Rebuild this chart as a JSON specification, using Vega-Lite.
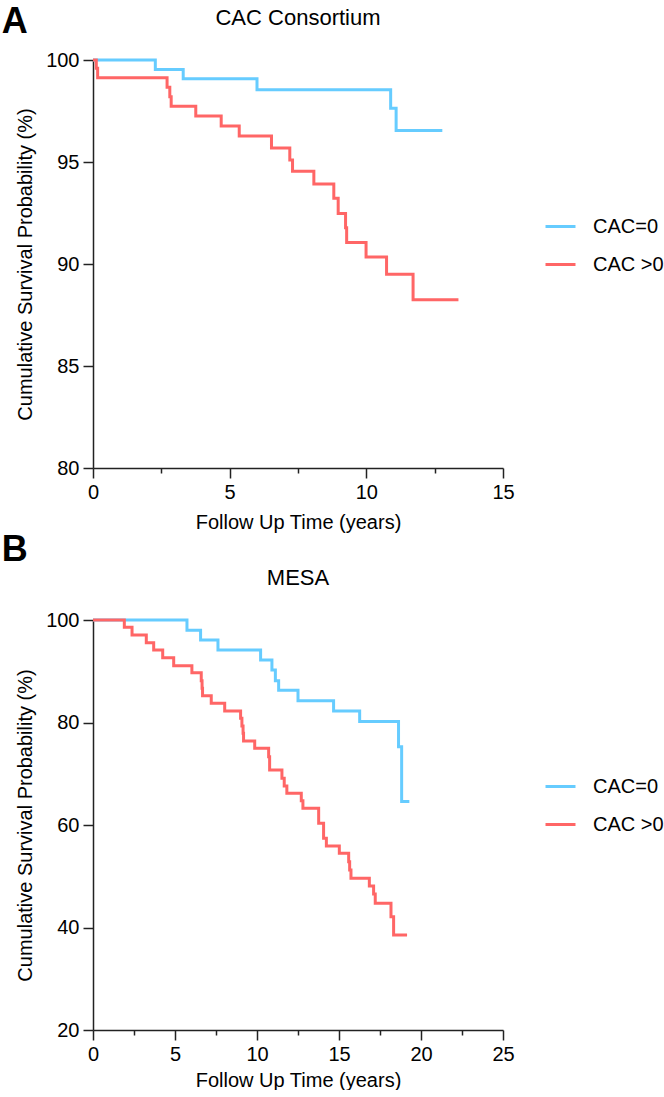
{
  "$schema": "https://vega.github.io/schema/vega-lite/v6.json",
  "background": "white",
  "padding": {"left": 1, "top": 4, "right": 0, "bottom": 0},
  "config": {
    "font": "Liberation Sans",
    "view": {"stroke": null},
    "axis": {
      "grid": false,
      "domainColor": "#222",
      "domainWidth": 1.5,
      "tickColor": "#222",
      "tickWidth": 1.5,
      "tickSize": 10,
      "labelColor": "#000",
      "titleColor": "#000",
      "labelFontSize": 20,
      "titleFontSize": 20,
      "titleFontWeight": "normal",
      "labelPadding": 4,
      "labelFlush": false,
      "labelOverlap": false
    },
    "legend": {
      "title": null,
      "orient": "none",
      "legendX": 451,
      "legendY": 150,
      "symbolType": "stroke",
      "symbolSize": 900,
      "symbolStrokeWidth": 3,
      "labelFontSize": 20,
      "labelColor": "#000",
      "labelOffset": 16,
      "rowPadding": 11,
      "padding": 0
    },
    "concat": {"spacing": 0}
  },
  "datasets": {
    "km": [
      {"panel": "A", "group": "CAC=0", "t": 0, "s": 100},
      {"panel": "A", "group": "CAC=0", "t": 2.28, "s": 99.54},
      {"panel": "A", "group": "CAC=0", "t": 3.3, "s": 99.08},
      {"panel": "A", "group": "CAC=0", "t": 6.0, "s": 98.54},
      {"panel": "A", "group": "CAC=0", "t": 10.89, "s": 97.63},
      {"panel": "A", "group": "CAC=0", "t": 11.09, "s": 96.55},
      {"panel": "A", "group": "CAC=0", "t": 12.78, "s": 96.55},
      {"panel": "A", "group": "CAC >0", "t": 0, "s": 100},
      {"panel": "A", "group": "CAC >0", "t": 0.12, "s": 99.6},
      {"panel": "A", "group": "CAC >0", "t": 0.17, "s": 99.13},
      {"panel": "A", "group": "CAC >0", "t": 2.71, "s": 98.66},
      {"panel": "A", "group": "CAC >0", "t": 2.81, "s": 98.2},
      {"panel": "A", "group": "CAC >0", "t": 2.86, "s": 97.73},
      {"panel": "A", "group": "CAC >0", "t": 3.76, "s": 97.25},
      {"panel": "A", "group": "CAC >0", "t": 4.69, "s": 96.76},
      {"panel": "A", "group": "CAC >0", "t": 5.35, "s": 96.27},
      {"panel": "A", "group": "CAC >0", "t": 6.53, "s": 95.69},
      {"panel": "A", "group": "CAC >0", "t": 7.2, "s": 95.1},
      {"panel": "A", "group": "CAC >0", "t": 7.3, "s": 94.55},
      {"panel": "A", "group": "CAC >0", "t": 8.08, "s": 93.92},
      {"panel": "A", "group": "CAC >0", "t": 8.81, "s": 93.22},
      {"panel": "A", "group": "CAC >0", "t": 8.97, "s": 92.48},
      {"panel": "A", "group": "CAC >0", "t": 9.24, "s": 91.78},
      {"panel": "A", "group": "CAC >0", "t": 9.28, "s": 91.06},
      {"panel": "A", "group": "CAC >0", "t": 9.99, "s": 90.34},
      {"panel": "A", "group": "CAC >0", "t": 10.74, "s": 89.5},
      {"panel": "A", "group": "CAC >0", "t": 11.71, "s": 88.25},
      {"panel": "A", "group": "CAC >0", "t": 13.37, "s": 88.25},
      {"panel": "B", "group": "CAC=0", "t": 0, "s": 100},
      {"panel": "B", "group": "CAC=0", "t": 5.73, "s": 97.99},
      {"panel": "B", "group": "CAC=0", "t": 6.56, "s": 96.1},
      {"panel": "B", "group": "CAC=0", "t": 7.62, "s": 94.15},
      {"panel": "B", "group": "CAC=0", "t": 10.22, "s": 92.2},
      {"panel": "B", "group": "CAC=0", "t": 10.91, "s": 90.24},
      {"panel": "B", "group": "CAC=0", "t": 11.12, "s": 88.16},
      {"panel": "B", "group": "CAC=0", "t": 11.32, "s": 86.28},
      {"panel": "B", "group": "CAC=0", "t": 12.5, "s": 84.26},
      {"panel": "B", "group": "CAC=0", "t": 14.67, "s": 82.24},
      {"panel": "B", "group": "CAC=0", "t": 16.26, "s": 80.2},
      {"panel": "B", "group": "CAC=0", "t": 18.63, "s": 75.28},
      {"panel": "B", "group": "CAC=0", "t": 18.82, "s": 64.6},
      {"panel": "B", "group": "CAC=0", "t": 19.29, "s": 64.6},
      {"panel": "B", "group": "CAC >0", "t": 0, "s": 100},
      {"panel": "B", "group": "CAC >0", "t": 1.91, "s": 98.57},
      {"panel": "B", "group": "CAC >0", "t": 2.38, "s": 97.07},
      {"panel": "B", "group": "CAC >0", "t": 3.25, "s": 95.57},
      {"panel": "B", "group": "CAC >0", "t": 3.7, "s": 94.15},
      {"panel": "B", "group": "CAC >0", "t": 4.25, "s": 92.65},
      {"panel": "B", "group": "CAC >0", "t": 4.92, "s": 91.09},
      {"panel": "B", "group": "CAC >0", "t": 6.03, "s": 89.72},
      {"panel": "B", "group": "CAC >0", "t": 6.6, "s": 88.16},
      {"panel": "B", "group": "CAC >0", "t": 6.65, "s": 86.67},
      {"panel": "B", "group": "CAC >0", "t": 6.68, "s": 85.24},
      {"panel": "B", "group": "CAC >0", "t": 7.21, "s": 83.74},
      {"panel": "B", "group": "CAC >0", "t": 8.03, "s": 82.24},
      {"panel": "B", "group": "CAC >0", "t": 9.0, "s": 80.81},
      {"panel": "B", "group": "CAC >0", "t": 9.08, "s": 79.32},
      {"panel": "B", "group": "CAC >0", "t": 9.15, "s": 77.89},
      {"panel": "B", "group": "CAC >0", "t": 9.18, "s": 76.39},
      {"panel": "B", "group": "CAC >0", "t": 9.86, "s": 74.97},
      {"panel": "B", "group": "CAC >0", "t": 10.71, "s": 73.33},
      {"panel": "B", "group": "CAC >0", "t": 10.77, "s": 70.73},
      {"panel": "B", "group": "CAC >0", "t": 11.52, "s": 69.11},
      {"panel": "B", "group": "CAC >0", "t": 11.66, "s": 67.6},
      {"panel": "B", "group": "CAC >0", "t": 11.82, "s": 66.18},
      {"panel": "B", "group": "CAC >0", "t": 12.7, "s": 64.74},
      {"panel": "B", "group": "CAC >0", "t": 12.8, "s": 63.25},
      {"panel": "B", "group": "CAC >0", "t": 13.76, "s": 60.32},
      {"panel": "B", "group": "CAC >0", "t": 14.06, "s": 57.4},
      {"panel": "B", "group": "CAC >0", "t": 14.23, "s": 55.9},
      {"panel": "B", "group": "CAC >0", "t": 15.02, "s": 54.47},
      {"panel": "B", "group": "CAC >0", "t": 15.59, "s": 52.84},
      {"panel": "B", "group": "CAC >0", "t": 15.65, "s": 51.22},
      {"panel": "B", "group": "CAC >0", "t": 15.73, "s": 49.6},
      {"panel": "B", "group": "CAC >0", "t": 16.85, "s": 48.1},
      {"panel": "B", "group": "CAC >0", "t": 17.11, "s": 46.54},
      {"panel": "B", "group": "CAC >0", "t": 17.21, "s": 44.72},
      {"panel": "B", "group": "CAC >0", "t": 18.17, "s": 42.11},
      {"panel": "B", "group": "CAC >0", "t": 18.33, "s": 38.54},
      {"panel": "B", "group": "CAC >0", "t": 19.15, "s": 38.54}
    ]
  },
  "vconcat": [
    {
      "title": {"text": "A", "anchor": "start", "frame": "bounds", "fontSize": 36, "fontWeight": "bold", "color": "#000", "dx": -14, "dy": 34, "offset": 0},
      "vconcat": [
        {
          "width": 410,
          "height": 408,
          "title": {"text": "CAC Consortium", "fontSize": 22, "fontWeight": "normal", "color": "#000", "offset": 20},
          "data": {"name": "km"},
          "transform": [{"filter": "datum.panel === 'A'"}],
          "mark": {"type": "line", "interpolate": "step-after", "strokeWidth": 3},
          "encoding": {
            "x": {
              "field": "t", "type": "quantitative",
              "scale": {"domain": [0, 15], "nice": false},
              "axis": {
                "title": "Follow Up Time (years)",
                "values": [0, 2.5, 5, 7.5, 10, 12.5, 15],
                "labelExpr": "datum.value % 5 === 0 ? datum.label : ''",
                "tickSize": {"condition": {"test": "datum.value % 5 === 0", "value": 10}, "value": 5},
                "titlePadding": 10
              }
            },
            "y": {
              "field": "s", "type": "quantitative",
              "scale": {"domain": [80, 100], "nice": false, "zero": false},
              "axis": {"title": "Cumulative Survival Probability (%)", "values": [80, 85, 90, 95, 100], "titlePadding": 10}
            },
            "color": {
              "field": "group", "type": "nominal",
              "scale": {"domain": ["CAC=0", "CAC >0"], "range": ["#66CCFF", "#FF6666"]}
            }
          }
        }
      ]
    },
    {
      "title": {"text": "B", "anchor": "start", "frame": "bounds", "fontSize": 36, "fontWeight": "bold", "color": "#000", "dx": -14, "dy": 2, "offset": 0},
      "vconcat": [
        {
          "width": 410,
          "height": 410,
          "title": {"text": "MESA", "fontSize": 22, "fontWeight": "normal", "color": "#000", "offset": 20},
          "data": {"name": "km"},
          "transform": [{"filter": "datum.panel === 'B'"}],
          "mark": {"type": "line", "interpolate": "step-after", "strokeWidth": 3},
          "encoding": {
            "x": {
              "field": "t", "type": "quantitative",
              "scale": {"domain": [0, 25], "nice": false},
              "axis": {
                "title": "Follow Up Time (years)",
                "values": [0, 2.5, 5, 7.5, 10, 12.5, 15, 17.5, 20, 22.5, 25],
                "labelExpr": "datum.value % 5 === 0 ? datum.label : ''",
                "tickSize": {"condition": {"test": "datum.value % 5 === 0", "value": 10}, "value": 5},
                "titlePadding": 6
              }
            },
            "y": {
              "field": "s", "type": "quantitative",
              "scale": {"domain": [20, 100], "nice": false, "zero": false},
              "axis": {"title": "Cumulative Survival Probability (%)", "values": [20, 40, 60, 80, 100], "titlePadding": 10}
            },
            "color": {
              "field": "group", "type": "nominal",
              "scale": {"domain": ["CAC=0", "CAC >0"], "range": ["#66CCFF", "#FF6666"]}
            }
          }
        }
      ]
    }
  ],
  "resolve": {"scale": {"color": "independent"}}
}
